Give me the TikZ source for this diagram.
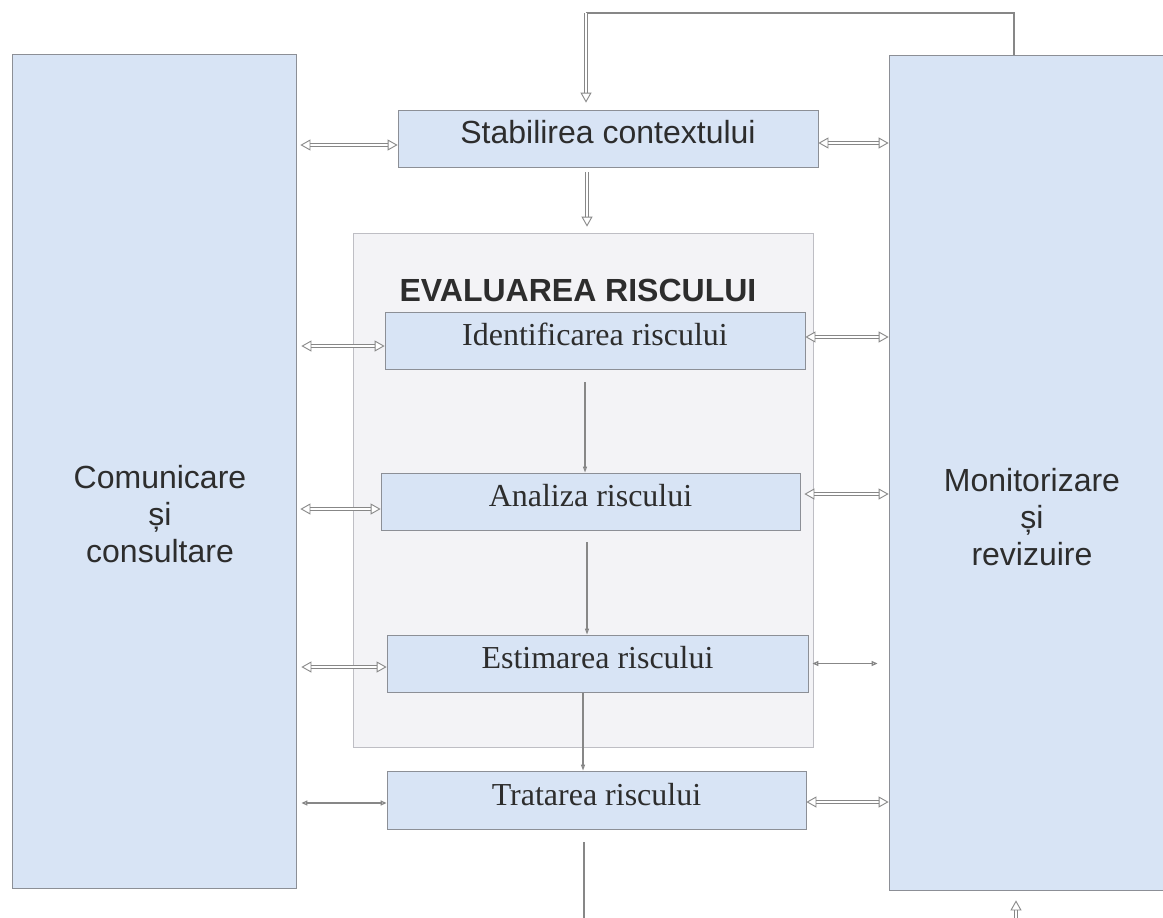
\documentclass[tikz,border=0pt]{standalone}
\usepackage{fontspec}
\setmainfont{Liberation Serif}
\newfontfamily\arialf{Liberation Sans}
\usetikzlibrary{arrows.meta}
\definecolor{boxblue}{RGB}{216,228,245}
\definecolor{boxline}{RGB}{140,143,150}
\definecolor{evalfill}{RGB}{243,243,246}
\definecolor{evalline}{RGB}{190,190,196}
\definecolor{arrgray}{RGB}{135,135,135}
\definecolor{txt}{RGB}{45,45,45}
\tikzset{
  bluebox/.style={draw=boxline, line width=0.8pt, fill=boxblue, inner sep=0pt, text=txt},
  stepbox/.style={bluebox, minimum height=57pt, text height=22pt, text depth=12pt,
    font=\fontsize{32}{38}\selectfont},
  sidetext/.style={font=\arialf\fontsize{32}{37}\selectfont, align=center, text=txt, inner sep=0pt},
  hol/.style={draw=arrgray, line width=0.9pt, double=white, double distance=2.4pt},
  hol2/.style={hol, {Triangle[open,fill=white,length=10pt,width=11pt]}-{Triangle[open,fill=white,length=10pt,width=11pt]}},
  hol1/.style={hol, -{Triangle[open,fill=white,length=10pt,width=11pt]}},
  thinar/.style={draw=arrgray, line width=1.3pt, {Triangle[open,fill=white,length=6pt,width=5pt]}-{Triangle[open,fill=white,length=6pt,width=5pt]}},
  thinv/.style={draw=arrgray, line width=1.2pt, -{Triangle[open,fill=white,length=6pt,width=4pt]}},
  thinline/.style={draw=arrgray, line width=1.2pt},
}
\begin{document}
\begin{tikzpicture}[x=1pt,y=-1pt]
\useasboundingbox (0,0) rectangle (1163,918);
\fill[white] (0,0) rectangle (1163,918);
% side panels
\node[bluebox, minimum width=284pt, minimum height=834pt] (comm) at (154,471) {};
\node[bluebox, minimum width=286pt, minimum height=835pt] (mon) at (1032,472.5) {};
\node[sidetext] (commtxt) at (160,514) {Comunicare\\și\\consultare};
\node[sidetext] (montxt) at (1032,517) {Monitorizare\\și\\revizuire};
% context
\node[stepbox, minimum width=420pt, font=\arialf\fontsize{32}{38}\selectfont] (stab) at (608,138.5) {Stabilirea contextului};
% evaluation frame
\node[draw=evalline, fill=evalfill, line width=0.8pt, minimum width=460pt, minimum height=514pt, inner sep=0pt] (eval) at (583,490) {};
\node[font=\arialf\bfseries\fontsize{32}{38}\selectfont, text=txt, inner sep=0pt] (evaltitle) at (578,290) {EVALUAREA RISCULUI};
\node[stepbox, minimum width=420pt] (ident) at (595,340.5) {Identificarea riscului};
\node[stepbox, minimum width=419pt] (anal) at (590.5,501.5) {Analiza riscului};
\node[stepbox, minimum width=421pt] (estim) at (597.5,663.5) {Estimarea riscului};
\node[stepbox, minimum width=419pt, minimum height=58pt] (trat) at (596.5,800) {Tratarea riscului};
% free ends
\coordinate (topc) at (586,13);
\coordinate (botc) at (584,930);
\coordinate (brc) at (1016,930);
% top feedback
\draw[thinline] ([xshift=-18pt]mon.north) |- (topc);
\draw[hol1, shorten >=7pt] (topc) -- (topc |- stab.north);
\draw[hol1, shorten <=5pt, shorten >=6pt] ([xshift=-21pt]stab.south) -- ([xshift=-21pt]stab.south |- eval.north);
% context side arrows
\draw[hol2, shorten <=4pt] ([yshift=-6.5pt]stab.west -| comm.east) -- ([yshift=-6.5pt]stab.west);
\draw[hol2] ([yshift=-4.5pt]stab.east) -- ([yshift=-4.5pt]stab.east -| mon.west);
% identification
\draw[hol2, shorten <=5pt] ([yshift=-5.5pt]ident.west -| comm.east) -- ([yshift=-5.5pt]ident.west);
\draw[hol2] ([yshift=3.5pt]ident.east) -- ([yshift=3.5pt]ident.east -| mon.west);
% analysis
\draw[hol2, shorten <=4pt] ([yshift=-7.5pt]anal.west -| comm.east) -- ([yshift=-7.5pt]anal.west);
\draw[hol2, shorten <=4pt] ([yshift=7.5pt]anal.east) -- ([yshift=7.5pt]anal.east -| mon.west);
% estimation
\draw[hol2, shorten <=5pt] ([yshift=-3.5pt]estim.west -| comm.east) -- ([yshift=-3.5pt]estim.west);
\draw[thinar, shorten <=4pt, shorten >=11pt] (estim.east) -- (estim.east -| mon.west);
% treatment
\draw[thinar, shorten <=5pt] ([yshift=-3pt]trat.west -| comm.east) -- ([yshift=-3pt]trat.west);
\draw[hol2] ([yshift=-2pt]trat.east) -- ([yshift=-2pt]trat.east -| mon.west);
% vertical connectors
\draw[thinv, shorten <=13pt] ([xshift=-10pt]ident.south) -- ([xshift=-10pt]ident.south |- anal.north);
\draw[thinv, shorten <=12pt] ([xshift=-3.5pt]anal.south) -- ([xshift=-3.5pt]anal.south |- estim.north);
\draw[thinv, shorten <=1pt] ([xshift=-14.5pt]estim.south) -- ([xshift=-14.5pt]estim.south |- trat.north);
\draw[thinline, shorten <=13pt] ([xshift=-12.5pt]trat.south) -- (botc);
\draw[hol1, shorten >=10pt] (brc) -- (brc |- mon.south);
\end{tikzpicture}
\end{document}
